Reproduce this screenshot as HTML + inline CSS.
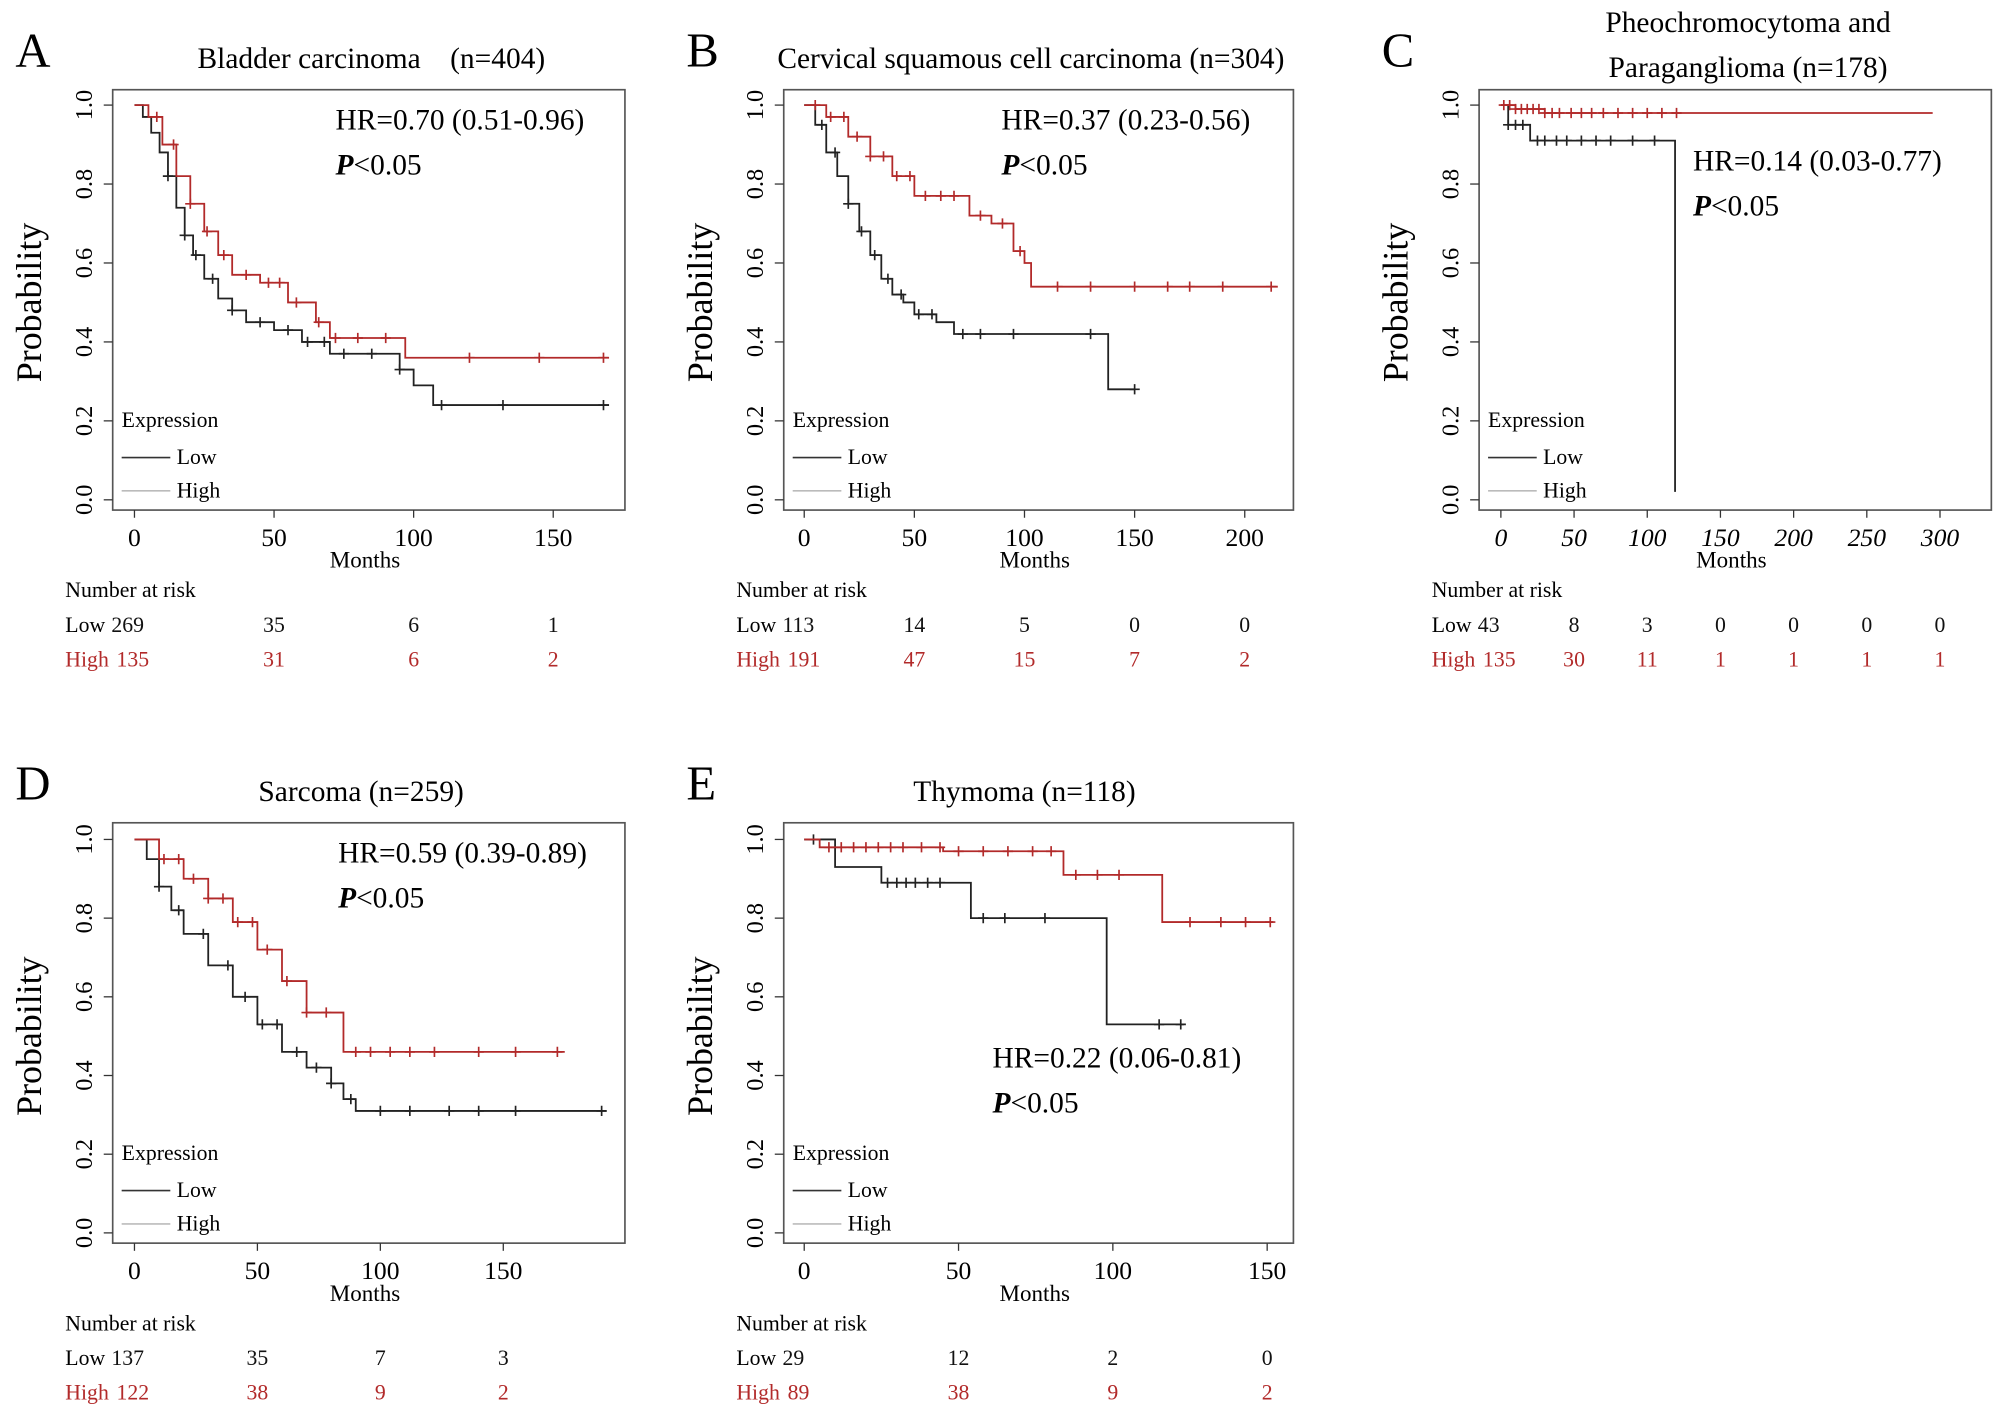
<!DOCTYPE html>
<html><head><meta charset="utf-8"><style>
html,body{margin:0;padding:0;background:#fff;}
svg{display:block;font-family:"Liberation Serif",serif;}
</style></head><body>
<svg id="fig" width="2008" height="1420" viewBox="0 0 1568 1108" preserveAspectRatio="none" xmlns="http://www.w3.org/2000/svg"></svg>
<script>
// ---- data ----
const aLowT=[0,3,6,9,12,15,18,21,25,30,35,40,50,60,70,90,95,100,107,170];
const aLowS=[1,0.97,0.93,0.88,0.82,0.74,0.67,0.62,0.56,0.51,0.48,0.45,0.43,0.4,0.37,0.37,0.33,0.29,0.24,0.24];
const aHighT=[0,5,10,15,20,25,30,35,45,55,65,70,95,97,170];
const aHighS=[1,0.97,0.9,0.82,0.75,0.68,0.62,0.57,0.55,0.5,0.45,0.41,0.41,0.36,0.36];
const aLowC=[12,18,22,28,35,45,55,62,68,75,85,95,110,132,168];
const aHighC=[8,14,20,26,32,40,48,52,58,66,72,80,90,120,145,168];
const bLowT=[0,5,10,15,20,25,30,35,40,45,50,60,68,137,138,150];
const bLowS=[1,0.95,0.88,0.82,0.75,0.68,0.62,0.56,0.52,0.5,0.47,0.45,0.42,0.42,0.28,0.28];
const bHighT=[0,10,20,30,40,50,70,75,85,95,100,103,215];
const bHighS=[1,0.97,0.92,0.87,0.82,0.77,0.77,0.72,0.7,0.63,0.6,0.54,0.54];
const bLowC=[8,14,20,26,32,38,44,52,58,72,80,95,130,150];
const bHighC=[5,12,18,24,30,36,42,48,55,62,68,80,90,98,115,130,150,165,175,190,212];
const cLowT=[0,5,20,118,119];
const cLowS=[1,0.95,0.91,0.91,0.02];
const cHighT=[0,10,30,295];
const cHighS=[1,0.99,0.98,0.98];
const cLowC=[5,10,15,25,30,38,45,55,65,75,90,105];
const cHighC=[2,6,10,14,18,22,26,30,35,40,48,55,62,70,80,90,100,110,120];
const dLowT=[0,5,10,15,20,30,40,50,60,70,80,85,90,192];
const dLowS=[1,0.95,0.88,0.82,0.76,0.68,0.6,0.53,0.46,0.42,0.38,0.34,0.31,0.31];
const dHighT=[0,10,20,30,40,50,60,70,82,85,175];
const dHighS=[1,0.95,0.9,0.85,0.79,0.72,0.64,0.56,0.56,0.46,0.46];
const dLowC=[10,18,28,38,45,52,58,66,74,80,88,100,112,128,140,155,190];
const dHighC=[12,18,24,30,36,42,48,54,62,70,78,90,96,104,112,122,140,155,172];
const eLowT=[0,10,25,53,54,97,98,123];
const eLowS=[1,0.93,0.89,0.89,0.8,0.8,0.53,0.53];
const eHighT=[0,5,45,83,84,115,116,152];
const eHighS=[1,0.98,0.97,0.97,0.91,0.91,0.79,0.79];
const eLowC=[3,27,30,33,36,40,44,58,65,78,115,122];
const eHighC=[8,12,16,20,24,28,32,38,44,50,58,66,74,80,88,95,102,125,135,143,151];
const riskA=[["269","35","6","1"],["135","31","6","2"]];
const riskB=[["113","14","5","0","0"],["191","47","15","7","2"]];
const riskC=[["43","8","3","0","0","0","0"],["135","30","11","1","1","1","1"]];
const riskD=[["137","35","7","3"],["122","38","9","2"]];
const riskE=[["29","12","2","0"],["89","38","9","2"]];

const NS="http://www.w3.org/2000/svg";
const svg=document.getElementById('fig');
function el(tag,attrs,parent){const e=document.createElementNS(NS,tag);for(const k in attrs)e.setAttribute(k,attrs[k]);(parent||svg).appendChild(e);return e;}
function txt(s,x,y,size,attrs,parent){const t=el('text',Object.assign({x:x,y:y,'font-size':size},attrs||{}),parent);t.textContent=s;return t;}

const RED="#b22a2a";
const panels=[
 {id:'a',letter:'A',title:['Bladder carcinoma\u00a0\u00a0\u00a0\u00a0(n=404)'],tx:290,bx:88,by:70,bw:400,bh:328,x0:105,xs:2.18,xticks:[0,50,100,150],y1:82,y0:390,low:[aLowT,aLowS,aLowC],high:[aHighT,aHighS,aHighC],hr:'HR=0.70 (0.51-0.96)',hx:262,hy:101,risk:riskA,italic:false},
 {id:'b',letter:'B',title:['Cervical squamous cell carcinoma (n=304)'],tx:805,bx:612,by:70,bw:398,bh:328,x0:628,xs:1.72,xticks:[0,50,100,150,200],y1:82,y0:390,low:[bLowT,bLowS,bLowC],high:[bHighT,bHighS,bHighC],hr:'HR=0.37 (0.23-0.56)',hx:782,hy:101,risk:riskB,italic:false},
 {id:'c',letter:'C',title:['Pheochromocytoma and','Paraganglioma (n=178)'],tx:1365,bx:1155,by:70,bw:400,bh:328,x0:1172,xs:1.143,xticks:[0,50,100,150,200,250,300],y1:82,y0:390,low:[cLowT,cLowS,cLowC],high:[cHighT,cHighS,cHighC],hr:'HR=0.14 (0.03-0.77)',hx:1322,hy:133,risk:riskC,italic:true},
 {id:'d',letter:'D',title:['Sarcoma (n=259)'],tx:282,bx:88,by:642,bw:400,bh:328,x0:105,xs:1.92,xticks:[0,50,100,150],y1:655,y0:962,low:[dLowT,dLowS,dLowC],high:[dHighT,dHighS,dHighC],hr:'HR=0.59 (0.39-0.89)',hx:264,hy:673,risk:riskD,italic:false},
 {id:'e',letter:'E',title:['Thymoma (n=118)'],tx:800,bx:612,by:642,bw:398,bh:328,x0:628,xs:2.41,xticks:[0,50,100,150],y1:655,y0:962,low:[eLowT,eLowS,eLowC],high:[eHighT,eHighS,eHighC],hr:'HR=0.22 (0.06-0.81)',hx:775,hy:833,risk:riskE,italic:false}
];

panels.forEach(p=>{
 const g=el('g',{});
 
 
 const X=t=>p.x0+t*p.xs, Y=s=>p.y0-(p.y0-p.y1)*s;
 const lt=txt(p.letter,p.bx-76,p.by-18,38,{},g);
 
 p.title.forEach((s,i)=>{const t=txt(s,p.tx,(p.title.length>1?p.by-45:p.by-17)+i*35,23,{'text-anchor':'middle'},g);
  });
 const box=el('rect',{x:p.bx,y:p.by,width:p.bw,height:p.bh,fill:'none',stroke:'#555','stroke-width':1.3},g);
 
 [0,0.2,0.4,0.6,0.8,1].forEach(v=>{const y=Y(v);
  el('line',{x1:p.bx-7,x2:p.bx,y1:y,y2:y,stroke:'#333'},g);
  const t=txt(v.toFixed(1),0,0,19,{'text-anchor':'middle',transform:`translate(${p.bx-16},${y}) rotate(-90)`},g);
  });
 const yt=txt('Probability',0,0,28,{'text-anchor':'middle',transform:`translate(${p.bx-56},${(p.y0+p.y1)/2}) rotate(-90)`},g);
 
 p.xticks.forEach(v=>{const x=X(v);
  el('line',{x1:x,x2:x,y1:p.by+p.bh,y2:p.by+p.bh+6,stroke:'#333'},g);
  const t=txt(String(v),x,p.by+p.bh+28,20,{'text-anchor':'middle','font-style':p.italic?'italic':'normal'},g);
  });
 const xt=txt('Months',p.bx+p.bw/2-3,p.by+p.bh+45,18,{'text-anchor':'middle'},g);
 
 function curve(c,col,name){const [T,S,C]=c;let d='M'+X(T[0])+','+Y(S[0]);
  for(let i=1;i<T.length;i++){d+=' H'+X(T[i])+' V'+Y(S[i]);}
  const path=el('path',{d:d,fill:'none',stroke:col,'stroke-width':1.4},g);
  
  C.forEach(ct=>{let s=S[0];for(let i=0;i<T.length;i++){if(T[i]<=ct)s=S[i];}
   const x=X(ct),y=Y(s);
   const m=el('path',{d:`M${x-4},${y}H${x+4}M${x},${y-4}V${y+4}`,stroke:col,'stroke-width':1.3},g);
   });}
 curve(p.low,'#222','low');
 curve(p.high,RED,'high');
 const h=txt(p.hr,p.hx,p.hy,23,{},g);
 const pv=el('text',{x:p.hx,y:p.hy+35,'font-size':23},g);
 
 const pi=el('tspan',{'font-weight':'bold','font-style':'italic'},pv);pi.textContent='P';
 const pr=el('tspan',{},pv);pr.textContent='<0.05';
 const lg=el('g',{},g);
 const ly=p.by+p.bh-65;
 txt('Expression',p.bx+7,ly,17,{},lg);
 el('line',{x1:p.bx+7,x2:p.bx+45,y1:ly+24,y2:ly+24,stroke:'#333','stroke-width':1.3},lg);
 txt('Low',p.bx+50,ly+29,17,{},lg);
 el('line',{x1:p.bx+7,x2:p.bx+45,y1:ly+50,y2:ly+50,stroke:'#bbb','stroke-width':1.3},lg);
 txt('High',p.bx+50,ly+55,17,{},lg);
 const rt=el('g',{},g);
 const ry=p.by+p.bh+68;
 txt('Number at risk',p.bx-37,ry,17,{},rt);
 txt('Low',p.bx-37,ry+27,17,{},rt);
 txt('High',p.bx-37,ry+54,17,{fill:RED},rt);
 p.risk.forEach((row,ri)=>row.forEach((v,i)=>{
  const x=i===0?p.bx-37+(ri?40:36):X(p.xticks[i]);
  txt(v,x,ry+27+ri*27,17,{'text-anchor':i===0?'start':'middle',fill:ri?RED:'#111'},rt);}));
});
</script>
</body></html>
